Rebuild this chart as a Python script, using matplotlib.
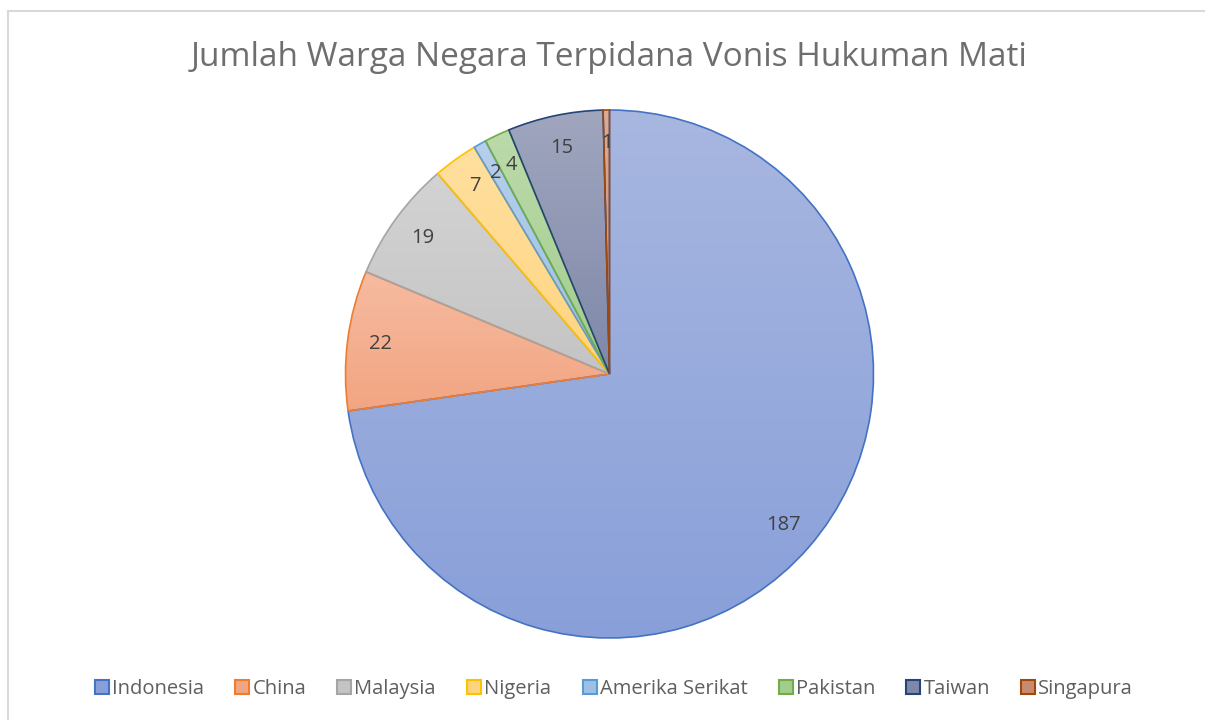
import numpy as np
import matplotlib
matplotlib.use("Agg")
import matplotlib.pyplot as plt
from matplotlib.patches import Patch
from matplotlib.lines import Line2D
from matplotlib.colors import to_rgb

plt.rcParams['font.family'] = ['Open Sans', 'DejaVu Sans']

title = "Jumlah Warga Negara Terpidana Vonis Hukuman Mati"
countries = ["Indonesia", "China", "Malaysia", "Nigeria", "Amerika Serikat",
             "Pakistan", "Taiwan", "Singapura"]
values = [187, 22, 19, 7, 2, 4, 15, 1]

edge_colors = ["#4472C4", "#ED7D31", "#A5A5A5", "#FFC000", "#5B9BD5",
               "#70AD47", "#264478", "#9E480E"]
top_colors = ["#A8B7E0", "#F6BBA0", "#D3D3D3", "#FFE0A0", "#B5CFEC",
              "#BCDAAA", "#A0A6BE", "#D9AC98"]
bottom_colors = ["#889FD9", "#F2A582", "#C4C4C4", "#FFD47E", "#9EC0E6",
                 "#A3CC8D", "#7F88AA", "#C88A70"]

W, H = 1205, 720
fig = plt.figure(figsize=(W / 100, H / 100), dpi=100)
fig.patch.set_facecolor("white")

# border
fig.add_artist(Line2D([8 / W, 1], [1 - 11 / H, 1 - 11 / H], transform=fig.transFigure,
                      color="#D9D9D9", lw=1.5))
fig.add_artist(Line2D([8 / W, 8 / W], [0, 1 - 11 / H], transform=fig.transFigure,
                      color="#D9D9D9", lw=1.5))

cx, cy, R = 609.5, 374, 264
m = 1.03
ax = fig.add_axes([(cx - R * m) / W, (H - cy - R * m) / H, 2 * R * m / W, 2 * R * m / H])
ax.set_xlim(-m, m)
ax.set_ylim(-m, m)
ax.axis("off")

wedges, _ = ax.pie(values, startangle=90, counterclock=False, radius=1,
                   wedgeprops=dict(linewidth=1.2, joinstyle="miter"))

for w, ec, tc, bc in zip(wedges, edge_colors, top_colors, bottom_colors):
    w.set_facecolor("none")
    w.set_edgecolor(ec)
    w.set_zorder(3)
    verts = w.get_path().vertices
    x0, x1 = verts[:, 0].min(), verts[:, 0].max()
    y0, y1 = verts[:, 1].min(), verts[:, 1].max()
    t = np.linspace(0, 1, 256)[:, None]
    grad = (1 - t) * np.array(to_rgb(tc)) + t * np.array(to_rgb(bc))
    grad = grad[:, None, :]
    im = ax.imshow(grad, extent=(x0, x1, y0, y1), origin="upper", aspect="auto",
                   zorder=2, interpolation="bilinear")
    im.set_clip_path(w)

ax.set_xlim(-m, m)
ax.set_ylim(-m, m)

for w, v in zip(wedges, values):
    ang = np.deg2rad((w.theta1 + w.theta2) / 2)
    r = 0.875
    ax.text(r * np.cos(ang), r * np.sin(ang), str(v), ha="center", va="center",
            fontsize=14.5, color="#404040", zorder=5)

fig.text(609 / W, 1 - 57 / H, title, ha="center", va="center",
         fontsize=24, color="#6E6E6E")

handles = [Patch(facecolor=bc, edgecolor=ec, linewidth=1.5) for ec, bc in zip(edge_colors, bottom_colors)]
fig.legend(handles, countries, loc="center", bbox_to_anchor=(614 / W, 1 - 689 / H),
           ncol=8, frameon=False, fontsize=14.5, handlelength=0.7, handleheight=0.7,
           handletextpad=0.15, columnspacing=1.55, labelcolor="#5F5F5F")

fig.savefig("out.png", dpi=100, facecolor="white")
